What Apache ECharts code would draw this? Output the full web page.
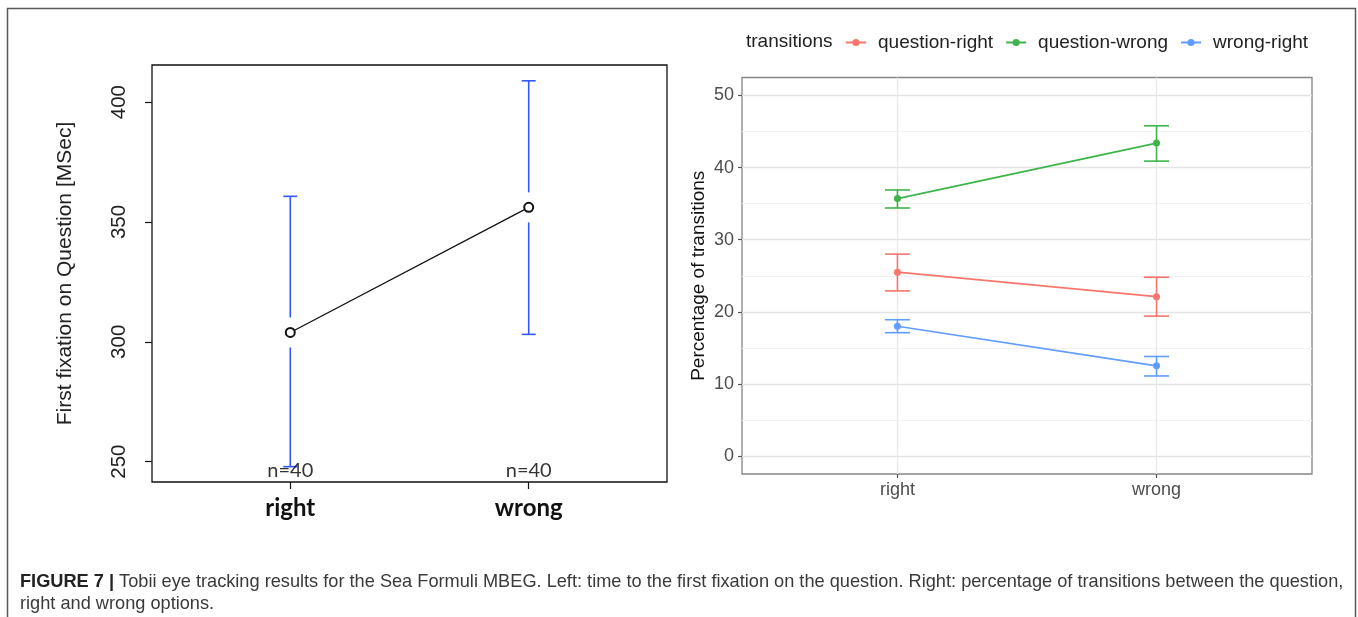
<!DOCTYPE html>
<html>
<head>
<meta charset="utf-8">
<title>Figure 7</title>
<script src="https://cdn.jsdelivr.net/npm/echarts@6.0.0/dist/echarts.min.js"></script>
<style>
  html, body { margin: 0; padding: 0; background: #fff; }
  #main { width: 1358px; height: 617px; }
</style>
</head>
<body>
<div id="main"></div>
<script>
// categories shared by both panels
const categories = ['right', 'wrong'];

// left panel: first fixation on question (ms), mean with CI
const fixMean = [303.9, 356.1];
const fixLow = [247.9, 303.1];
const fixHigh = [360.7, 408.9];
const fixN = [40, 40];
const leftTicks = [250, 300, 350, 400];

// right panel: percentage of transitions
const transNames = ['question-right', 'question-wrong', 'wrong-right'];
const transColors = ['#F8766D', '#3DB54A', '#619CFF'];
const qrMean = [25.5, 22.1];
const qrLow = [22.9, 19.4];
const qrHigh = [28.0, 24.8];
const qwMean = [35.7, 43.4];
const qwLow = [34.4, 40.9];
const qwHigh = [36.9, 45.8];
const wrMean = [18.0, 12.5];
const wrLow = [17.1, 11.1];
const wrHigh = [18.9, 13.8];
const rightTicks = [0, 10, 20, 30, 40, 50];
const rightMinor = [5, 15, 25, 35, 45];

const transMeans = [qrMean, qwMean, wrMean];
const transLows = [qrLow, qwLow, wrLow];
const transHighs = [qrHigh, qwHigh, wrHigh];
const catPos = categories.map((c, i) => i + 1);

const myChart = echarts.init(document.getElementById('main'));

// left error bars: R plotmeans style, gap around the point
function leftErrBar(params, api) {
  const x = api.value(0);
  const pLo = api.coord([x, api.value(1)]);
  const pHi = api.coord([x, api.value(2)]);
  const pM = api.coord([x, api.value(3)]);
  const gap = 15, hw = 7;
  const st = { stroke: '#3358ff', lineWidth: 1.6 };
  return {
    type: 'group',
    children: [
      { type: 'line', shape: { x1: pM[0], y1: pM[1] - gap, x2: pHi[0], y2: pHi[1] }, style: st },
      { type: 'line', shape: { x1: pM[0], y1: pM[1] + gap, x2: pLo[0], y2: pLo[1] }, style: st },
      { type: 'line', shape: { x1: pHi[0] - hw, y1: pHi[1], x2: pHi[0] + hw, y2: pHi[1] }, style: st },
      { type: 'line', shape: { x1: pLo[0] - hw, y1: pLo[1], x2: pLo[0] + hw, y2: pLo[1] }, style: st }
    ]
  };
}

// right error bars: ggplot geom_errorbar
function rightErrBar(color) {
  return function (params, api) {
    const x = api.value(0);
    const pLo = api.coord([x, api.value(1)]);
    const pHi = api.coord([x, api.value(2)]);
    const hw = 12.5;
    const st = { stroke: color, lineWidth: 1.6 };
    return {
      type: 'group',
      children: [
        { type: 'line', shape: { x1: pLo[0], y1: pLo[1], x2: pHi[0], y2: pHi[1] }, style: st },
        { type: 'line', shape: { x1: pHi[0] - hw, y1: pHi[1], x2: pHi[0] + hw, y2: pHi[1] }, style: st },
        { type: 'line', shape: { x1: pLo[0] - hw, y1: pLo[1], x2: pLo[0] + hw, y2: pLo[1] }, style: st }
      ]
    };
  };
}

const gridLines = [].concat(
  rightTicks.map(v => ({ yAxis: v, lineStyle: { color: '#e4e4e4', width: 1.3, type: 'solid' } })),
  rightMinor.map(v => ({ yAxis: v, lineStyle: { color: '#f1f1f1', width: 1, type: 'solid' } })),
  catPos.map(v => ({ xAxis: v, lineStyle: { color: '#e8e8e8', width: 1.3, type: 'solid' } }))
);

const series = [
  // left panel
  {
    type: 'custom',
    xAxisIndex: 0, yAxisIndex: 0,
    renderItem: leftErrBar,
    encode: { x: 0, y: [1, 2] },
    data: catPos.map((x, i) => [x, fixLow[i], fixHigh[i], fixMean[i]]),
    z: 2
  },
  {
    type: 'line',
    xAxisIndex: 0, yAxisIndex: 0,
    data: catPos.map((x, i) => [x, fixMean[i]]),
    symbol: 'emptyCircle',
    symbolSize: 9,
    lineStyle: { color: '#111', width: 1.3 },
    itemStyle: { color: '#111', borderColor: '#111', borderWidth: 1.3 },
    z: 3
  },
  {
    type: 'scatter',
    xAxisIndex: 0, yAxisIndex: 0,
    data: catPos.map(x => [x, 241.5]),
    symbolSize: 0,
    label: {
      show: true,
      position: 'top',
      distance: 1,
      formatter: p => 'n=' + fixN[p.dataIndex],
      fontFamily: 'Lato',
      fontSize: 20,
      color: '#000'
    },
    z: 4
  },
  // right panel gridlines
  {
    type: 'line',
    xAxisIndex: 1, yAxisIndex: 1,
    data: [],
    z: 0,
    markLine: {
      silent: true,
      symbol: 'none',
      label: { show: false },
      animation: false,
      z: 0,
      data: gridLines
    }
  }
];

transNames.forEach((name, k) => {
  series.push({
    name: name,
    type: 'line',
    xAxisIndex: 1, yAxisIndex: 1,
    data: catPos.map((x, i) => [x, transMeans[k][i]]),
    symbol: 'circle',
    symbolSize: 7,
    lineStyle: { color: transColors[k], width: 1.6 },
    itemStyle: { color: transColors[k] },
    z: 6
  });
});
transNames.forEach((name, k) => {
  series.push({
    name: name,
    type: 'custom',
    xAxisIndex: 1, yAxisIndex: 1,
    renderItem: rightErrBar(transColors[k]),
    encode: { x: 0, y: [1, 2] },
    data: catPos.map((x, i) => [x, transLows[k][i], transHighs[k][i]]),
    z: 6
  });
});

myChart.setOption({
  animation: false,
  textStyle: { fontFamily: 'Liberation Sans' },
  grid: [
    { left: 152, top: 65, width: 515, height: 417, show: true, borderColor: '#111', borderWidth: 1.3, backgroundColor: 'transparent' },
    { left: 742, top: 77.5, width: 570, height: 396.5, show: true, borderColor: '#858585', borderWidth: 1.3, backgroundColor: 'transparent' }
  ],
  xAxis: [
    {
      type: 'value', gridIndex: 0, min: 0.42, max: 2.58,
      axisLine: { show: false, onZero: false },
      axisTick: { show: true, customValues: catPos, length: 7, inside: false, lineStyle: { color: '#111', width: 1.2 } },
      axisLabel: {
        customValues: catPos,
        formatter: v => categories[Math.round(v) - 1],
        fontFamily: 'Lato', fontWeight: 'bold', fontSize: 24, color: '#111', margin: 14
      },
      splitLine: { show: false }
    },
    {
      type: 'value', gridIndex: 1, min: 0.4, max: 2.6,
      axisLine: { show: false, onZero: false },
      axisTick: { show: true, customValues: catPos, length: 4, lineStyle: { color: '#555', width: 1.2 } },
      axisLabel: {
        customValues: catPos,
        formatter: v => categories[Math.round(v) - 1],
        fontSize: 18, color: '#4d4d4d', margin: 7
      },
      splitLine: { show: false }
    }
  ],
  yAxis: [
    {
      type: 'value', gridIndex: 0, min: 241.5, max: 415.5,
      axisLine: { show: false, onZero: false },
      axisTick: { show: true, customValues: leftTicks, length: 7, lineStyle: { color: '#111', width: 1.2 } },
      axisLabel: { customValues: leftTicks, rotate: 90, fontSize: 20.5, color: '#222', margin: 22 },
      splitLine: { show: false },
      name: 'First fixation on Question [MSec]',
      nameLocation: 'middle',
      nameRotate: 90,
      nameGap: 76,
      nameTextStyle: { fontSize: 21, color: '#222' }
    },
    {
      type: 'value', gridIndex: 1, min: -2.5, max: 52.5,
      axisLine: { show: false, onZero: false },
      axisTick: { show: true, customValues: rightTicks, length: 4, lineStyle: { color: '#555', width: 1.2 } },
      axisLabel: { customValues: rightTicks, fontSize: 18, color: '#4d4d4d', margin: 8 },
      splitLine: { show: false },
      name: 'Percentage of transitions',
      nameLocation: 'middle',
      nameRotate: 90,
      nameGap: 34,
      nameTextStyle: { fontSize: 19, color: '#111' }
    }
  ],
  legend: {
    data: transNames,
    left: 845,
    top: 33,
    padding: 0,
    itemWidth: 20,
    itemHeight: 9,
    itemGap: 12,
    textStyle: { fontSize: 19, color: '#222', padding: [0, 0, 0, 7] }
  },
  graphic: [
    {
      type: 'rect',
      shape: { x: 7.5, y: 8.5, width: 1348, height: 640 },
      style: { fill: 'none', stroke: '#5a5a5a', lineWidth: 1.5 },
      silent: true
    },
    {
      type: 'text',
      left: 746, top: 32,
      style: { text: 'transitions', fontSize: 19, fill: '#222', fontFamily: 'Liberation Sans' }
    },
    {
      type: 'text',
      left: 20, top: 573,
      style: {
        text: '{b|FIGURE 7 |} Tobii eye tracking results for the Sea Formuli MBEG. Left: time to the first fixation on the question. Right: percentage of transitions between the question,',
        fontSize: 18.2, fill: '#3a3a3a', fontFamily: 'Liberation Sans',
        rich: { b: { fontWeight: 'bold', fontSize: 18.2, fill: '#222', fontFamily: 'Liberation Sans' } }
      }
    },
    {
      type: 'text',
      left: 20, top: 595,
      style: { text: 'right and wrong options.', fontSize: 18.2, fill: '#3a3a3a', fontFamily: 'Liberation Sans' }
    }
  ],
  series: series
});
window.onresize = () => myChart.resize();
</script>
</body>
</html>
